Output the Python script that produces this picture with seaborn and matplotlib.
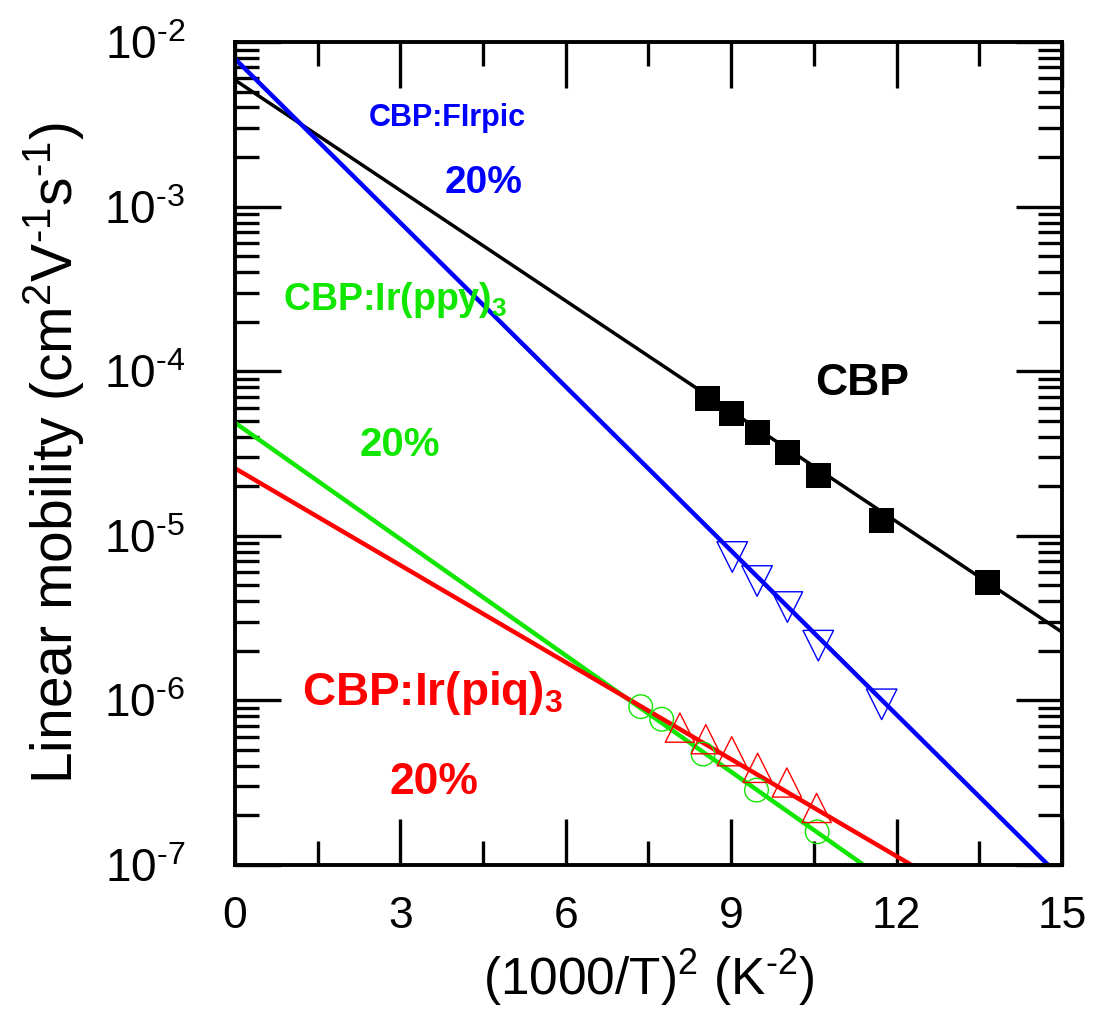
import numpy as np
import pandas as pd
import matplotlib
matplotlib.use("Agg")
import matplotlib.pyplot as plt
from matplotlib.ticker import MultipleLocator, LogLocator, NullFormatter, FuncFormatter
import seaborn as sns

# data, x = (1000/T)^2, y = linear mobility
cbp_x = [8.56, 9.00, 9.47, 10.01, 10.57, 11.71, 13.64]
cbp_y = [6.85e-5, 5.60e-5, 4.29e-5, 3.24e-5, 2.34e-5, 1.25e-5, 5.26e-6]

firpic_x = [9.02, 9.47, 10.02, 10.58, 11.73]
firpic_y = [7.43e-6, 5.31e-6, 3.69e-6, 2.15e-6, 9.46e-7]

ppy_x = [7.36, 7.74, 8.49, 9.46, 10.56]
ppy_y = [9.16e-7, 7.68e-7, 4.72e-7, 2.85e-7, 1.59e-7]

piq_x = [8.07, 8.54, 9.01, 9.48, 10.01, 10.55]
piq_y = [6.83e-7, 5.81e-7, 4.91e-7, 3.89e-7, 3.17e-7, 2.22e-7]

# fitted lines, end points at x=0 and x=15
fit_x = [0, 15]
cbp_fit = [5.87e-3, 2.6e-6]
firpic_fit = [7.9e-3, 8.26e-8]
ppy_fit = [4.86e-5, 1.42e-8]
piq_fit = [2.57e-5, 2.91e-8]

BLUE = "#0000ff"
GREEN = "#11e600"
RED = "#ff0000"

sns.set_style("ticks")
plt.rcParams["font.family"] = ["Liberation Sans", "DejaVu Sans"]
plt.rcParams["mathtext.fontset"] = "custom"
plt.rcParams["mathtext.rm"] = "Liberation Sans"
plt.rcParams["mathtext.it"] = "Liberation Sans"
plt.rcParams["mathtext.bf"] = "Liberation Sans:bold"
for k in ["text.color", "axes.labelcolor", "xtick.color", "ytick.color", "axes.edgecolor"]:
    plt.rcParams[k] = "black"

fig = plt.figure(figsize=(10.94, 10.24), dpi=100)
ax = fig.add_axes([0.2148, 0.1553, 0.7559, 0.8037])

# fit lines
sns.lineplot(x=fit_x, y=cbp_fit, color="black", lw=2.5, ax=ax)
sns.lineplot(x=fit_x, y=firpic_fit, color=BLUE, lw=3.2, ax=ax)
sns.lineplot(x=fit_x, y=ppy_fit, color=GREEN, lw=3.2, ax=ax)
sns.lineplot(x=fit_x, y=piq_fit, color=RED, lw=3.2, ax=ax)

# measured points
sns.scatterplot(x=cbp_x, y=cbp_y, marker="s", s=18**2, color="black",
                edgecolor="black", linewidth=0, ax=ax, zorder=3)
sns.scatterplot(x=firpic_x, y=firpic_y, marker="v", s=22**2, facecolors="none",
                edgecolor=BLUE, linewidth=1.0, ax=ax, zorder=3)
sns.scatterplot(x=ppy_x, y=ppy_y, marker="o", s=17**2, facecolors="none",
                edgecolor=GREEN, linewidth=1.0, ax=ax, zorder=3)
sns.scatterplot(x=piq_x, y=piq_y, marker="^", s=21**2, facecolors="none",
                edgecolor=RED, linewidth=1.0, ax=ax, zorder=3)

ax.set_yscale("log")
ax.set_xlim(0, 15)
ax.set_ylim(1e-7, 1e-2)

ax.xaxis.set_major_locator(MultipleLocator(3))
ax.xaxis.set_minor_locator(MultipleLocator(1.5))
ax.yaxis.set_major_locator(LogLocator(base=10, numticks=10))
ax.yaxis.set_minor_locator(LogLocator(base=10, subs=np.arange(2, 10), numticks=10))
ax.yaxis.set_minor_formatter(NullFormatter())
ax.yaxis.set_major_formatter(FuncFormatter(
    lambda v, p: r"10$^{\text{%d}}$" % int(round(np.log10(v)))))

ax.tick_params(which="both", direction="in", top=True, right=True, width=2.4)
ax.tick_params(which="major", length=33)
ax.tick_params(which="minor", length=17)
ax.tick_params(axis="x", which="major", labelsize=32, pad=22)
ax.tick_params(axis="y", which="major", labelsize=33, pad=36)
for sp in ax.spines.values():
    sp.set_linewidth(2.8)

ax.set_xlabel(r"(1000/T)$^{2}$ (K$^{\text{-2}}$)", fontsize=37, labelpad=8)
ax.set_ylabel(r"Linear mobility (cm$^{2}$V$^{\text{-1}}$s$^{\text{-1}}$)", fontsize=41, labelpad=12)

# curve labels
ax.text(3.86, 3.45e-3, "CBP:FIrpic", color=BLUE, fontsize=22, fontweight="bold",
        ha="center", va="center")
ax.text(4.5, 1.39e-3, "20%", color=BLUE, fontsize=28, fontweight="bold",
        ha="center", va="center")
ax.text(11.37, 8.47e-5, "CBP", color="black", fontsize=32, fontweight="bold",
        ha="center", va="center")
ax.text(2.9, 2.71e-4, r"CBP:Ir(ppy)$_{\mathbf{3}}$", color=GREEN, fontsize=27,
        fontweight="bold", ha="center", va="center")
ax.text(3.0, 3.56e-5, "20%", color=GREEN, fontsize=29, fontweight="bold",
        ha="center", va="center")
ax.text(3.58, 1.11e-6, r"CBP:Ir(piq)$_{\mathbf{3}}$", color=RED, fontsize=33,
        fontweight="bold", ha="center", va="center")
ax.text(3.6, 3.15e-7, "20%", color=RED, fontsize=32, fontweight="bold",
        ha="center", va="center")

fig.savefig("out.png", dpi=100)
